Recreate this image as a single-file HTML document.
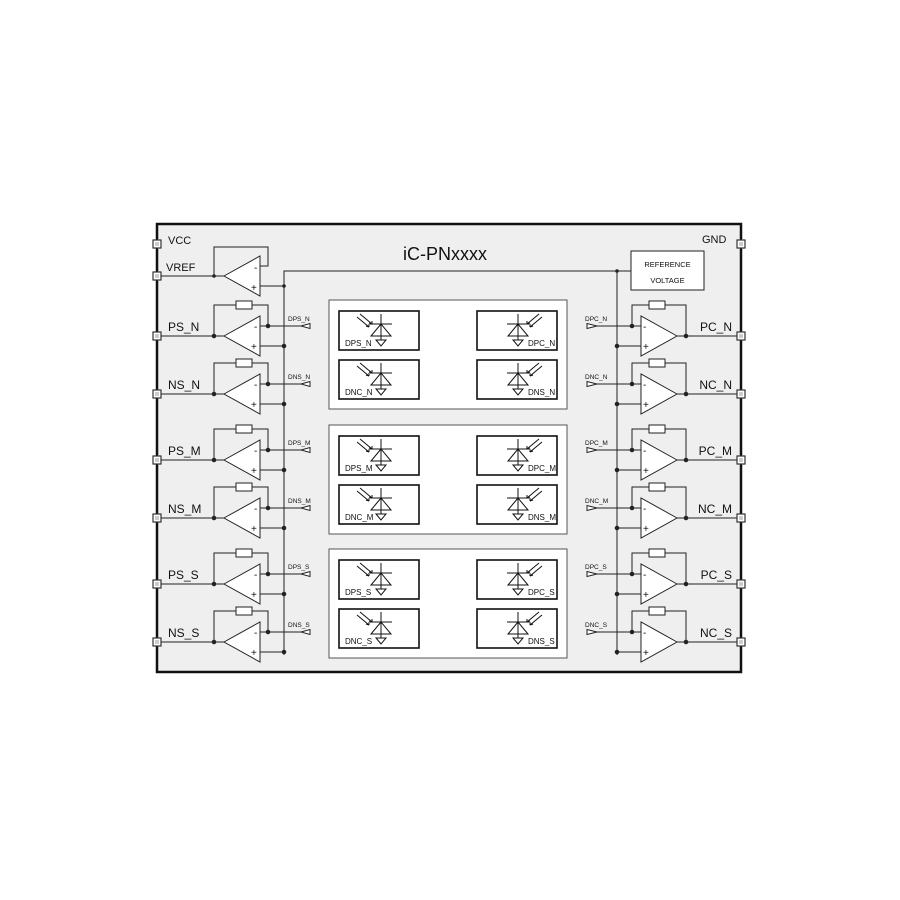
<!DOCTYPE html>
<html><head><meta charset="utf-8"><style>
html,body{margin:0;padding:0;background:#fff;width:900px;height:900px;overflow:hidden}
svg text{font-family:"Liberation Sans",Arial,sans-serif;fill:#111}
</style></head><body>
<svg width="900" height="900" viewBox="0 0 900 900" xmlns="http://www.w3.org/2000/svg">
<defs>
<g id="lop" stroke="#222" stroke-width="1" fill="none">
<line x1="161" y1="0" x2="224" y2="0"/>
<path d="M224,0 L260,-20 L260,20 Z" fill="#fff"/>
<polyline points="214,0 214,-31 268,-31 268,-10 260,-10"/>
<rect x="236" y="-35" width="16" height="8" fill="#fff"/>
<line x1="268" y1="-10" x2="301" y2="-10"/>
<path d="M301,-10 L310,-12.5 L310,-7.5 Z" fill="#fff"/>
<line x1="260" y1="10" x2="284" y2="10"/>
<circle cx="214" cy="0" r="1.8" fill="#222"/>
<circle cx="268" cy="-10" r="1.8" fill="#222"/>
<circle cx="284" cy="10" r="1.8" fill="#222"/>
</g>
<g id="rop" stroke="#222" stroke-width="1" fill="none">
<line x1="677" y1="0" x2="741" y2="0"/>
<path d="M677,0 L641,-20 L641,20 Z" fill="#fff"/>
<polyline points="686,0 686,-31 632,-31 632,-10 641,-10"/>
<rect x="649" y="-35" width="16" height="8" fill="#fff"/>
<line x1="597" y1="-10" x2="632" y2="-10"/>
<path d="M597,-10 L587,-12.5 L587,-7.5 Z" fill="#fff"/>
<line x1="617" y1="10" x2="641" y2="10"/>
<circle cx="686" cy="0" r="1.8" fill="#222"/>
<circle cx="632" cy="-10" r="1.8" fill="#222"/>
<circle cx="617" cy="10" r="1.8" fill="#222"/>
</g>
<g id="diode" stroke="#111" stroke-width="1" fill="none">
<line x1="0" y1="-10" x2="0" y2="16"/>
<line x1="-11" y1="0" x2="11" y2="0"/>
<path d="M0,0 L-10,12 L10,12 Z"/>
<path d="M-5,16 L5,16 L0,22 Z"/>
</g>
<g id="arrL" stroke="#111" stroke-width="1" fill="none">
<line x1="-24" y1="-7" x2="-12" y2="3"/><line x1="-21" y1="-10" x2="-9" y2="0"/>
<path d="M-12,3 l-3,-1 M-12,3 l0,-3 M-9,0 l-3,-1 M-9,0 l0,-3"/>
</g>
<g id="arrR" stroke="#111" stroke-width="1" fill="none">
<line x1="24" y1="-7" x2="12" y2="3"/><line x1="21" y1="-10" x2="9" y2="0"/>
<path d="M12,3 l3,-1 M12,3 l0,-3 M9,0 l3,-1 M9,0 l0,-3"/>
</g>
<g id="pad"><rect x="-4" y="-4" width="8" height="8" fill="#fff" stroke="#333" stroke-width="1.2"/><rect x="-2" y="-2" width="4" height="4" fill="#ccc"/></g>
<g id="grp">
<rect x="329" y="0" width="238" height="109" fill="#fff" stroke="#555" stroke-width="1"/>
<rect x="339" y="11" width="80" height="39" fill="#fff" stroke="#111" stroke-width="1.6"/>
<rect x="477" y="11" width="80" height="39" fill="#fff" stroke="#111" stroke-width="1.6"/>
<rect x="339" y="60" width="80" height="39" fill="#fff" stroke="#111" stroke-width="1.6"/>
<rect x="477" y="60" width="80" height="39" fill="#fff" stroke="#111" stroke-width="1.6"/>
<use href="#diode" x="381" y="24"/><use href="#arrL" x="381" y="24"/>
<use href="#diode" x="381" y="73"/><use href="#arrL" x="381" y="73"/>
<use href="#diode" x="518" y="24"/><use href="#arrR" x="518" y="24"/>
<use href="#diode" x="518" y="73"/><use href="#arrR" x="518" y="73"/>
</g>
</defs>
<rect x="157" y="224" width="584" height="448" fill="#efefef"/>
<path d="M157,672 L157,224 L741,224 L741,672 Z" fill="none" stroke="#111" stroke-width="2.5"/>
<!-- buses -->
<g stroke="#222" stroke-width="1" fill="none">
<polyline points="284,655 284,271 631,271"/>
<line x1="617" y1="271" x2="617" y2="655"/>
<line x1="161" y1="276" x2="224" y2="276"/>
<path d="M224,276 L260,256 L260,296 Z" fill="#fff"/>
<polyline points="214,276 214,247 268,247 268,266 260,266"/>
<line x1="260" y1="286" x2="284" y2="286"/>
</g>
<circle cx="214" cy="276" r="1.8" fill="#222"/><circle cx="284" cy="286" r="1.8" fill="#222"/><circle cx="617" cy="271" r="1.8" fill="#222"/>
<text x="254" y="271" font-size="10">-</text><text x="251" y="291" font-size="10">+</text>
<rect x="631" y="251" width="73" height="39" fill="#fff" stroke="#222" stroke-width="1"/>
<text x="667.5" y="267" font-size="7.5" text-anchor="middle">REFERENCE</text>
<text x="667.5" y="283" font-size="7.5" text-anchor="middle">VOLTAGE</text>
<text x="445" y="260" font-size="18" text-anchor="middle">iC-PNxxxx</text>
<text x="168" y="244" font-size="11">VCC</text>
<text x="166" y="271" font-size="11">VREF</text>
<text x="702" y="243" font-size="11">GND</text>
<use href="#pad" x="157" y="244"/><use href="#pad" x="157" y="276"/><use href="#pad" x="741" y="244"/>

<!-- left opamps -->
<use href="#lop" y="336"/><use href="#lop" y="394"/><use href="#lop" y="460"/><use href="#lop" y="518"/><use href="#lop" y="584"/><use href="#lop" y="642"/>
<use href="#rop" y="336"/><use href="#rop" y="394"/><use href="#rop" y="460"/><use href="#rop" y="518"/><use href="#rop" y="584"/><use href="#rop" y="642"/>
<g font-size="10">
<text x="254" y="330">-</text><text x="251" y="350">+</text>
<text x="254" y="388">-</text><text x="251" y="408">+</text>
<text x="254" y="454">-</text><text x="251" y="474">+</text>
<text x="254" y="512">-</text><text x="251" y="532">+</text>
<text x="254" y="578">-</text><text x="251" y="598">+</text>
<text x="254" y="636">-</text><text x="251" y="656">+</text>
<text x="643" y="330">-</text><text x="643" y="350">+</text>
<text x="643" y="388">-</text><text x="643" y="408">+</text>
<text x="643" y="454">-</text><text x="643" y="474">+</text>
<text x="643" y="512">-</text><text x="643" y="532">+</text>
<text x="643" y="578">-</text><text x="643" y="598">+</text>
<text x="643" y="636">-</text><text x="643" y="656">+</text>
</g>
<g font-size="12">
<text x="168" y="331">PS_N</text><text x="168" y="389">NS_N</text>
<text x="168" y="455">PS_M</text><text x="168" y="513">NS_M</text>
<text x="168" y="579">PS_S</text><text x="168" y="637">NS_S</text>
<text x="732" y="331" text-anchor="end">PC_N</text><text x="732" y="389" text-anchor="end">NC_N</text>
<text x="732" y="455" text-anchor="end">PC_M</text><text x="732" y="513" text-anchor="end">NC_M</text>
<text x="732" y="579" text-anchor="end">PC_S</text><text x="732" y="637" text-anchor="end">NC_S</text>
</g>
<g font-size="6.5">
<text x="288" y="321">DPS_N</text><text x="288" y="379">DNS_N</text>
<text x="288" y="445">DPS_M</text><text x="288" y="503">DNS_M</text>
<text x="288" y="569">DPS_S</text><text x="288" y="627">DNS_S</text>
<text x="585" y="321">DPC_N</text><text x="585" y="379">DNC_N</text>
<text x="585" y="445">DPC_M</text><text x="585" y="503">DNC_M</text>
<text x="585" y="569">DPC_S</text><text x="585" y="627">DNC_S</text>
</g>
<use href="#pad" x="157" y="336"/><use href="#pad" x="157" y="394"/><use href="#pad" x="157" y="460"/><use href="#pad" x="157" y="518"/><use href="#pad" x="157" y="584"/><use href="#pad" x="157" y="642"/>
<use href="#pad" x="741" y="336"/><use href="#pad" x="741" y="394"/><use href="#pad" x="741" y="460"/><use href="#pad" x="741" y="518"/><use href="#pad" x="741" y="584"/><use href="#pad" x="741" y="642"/>

<use href="#grp" y="300"/><use href="#grp" y="425"/><use href="#grp" y="549"/>
<g font-size="8">
<text x="345" y="346">DPS_N</text><text x="345" y="395">DNC_N</text><text x="528" y="346">DPC_N</text><text x="528" y="395">DNS_N</text>
<text x="345" y="471">DPS_M</text><text x="345" y="520">DNC_M</text><text x="528" y="471">DPC_M</text><text x="528" y="520">DNS_M</text>
<text x="345" y="595">DPS_S</text><text x="345" y="644">DNC_S</text><text x="528" y="595">DPC_S</text><text x="528" y="644">DNS_S</text>
</g>
</svg>
</body></html>
